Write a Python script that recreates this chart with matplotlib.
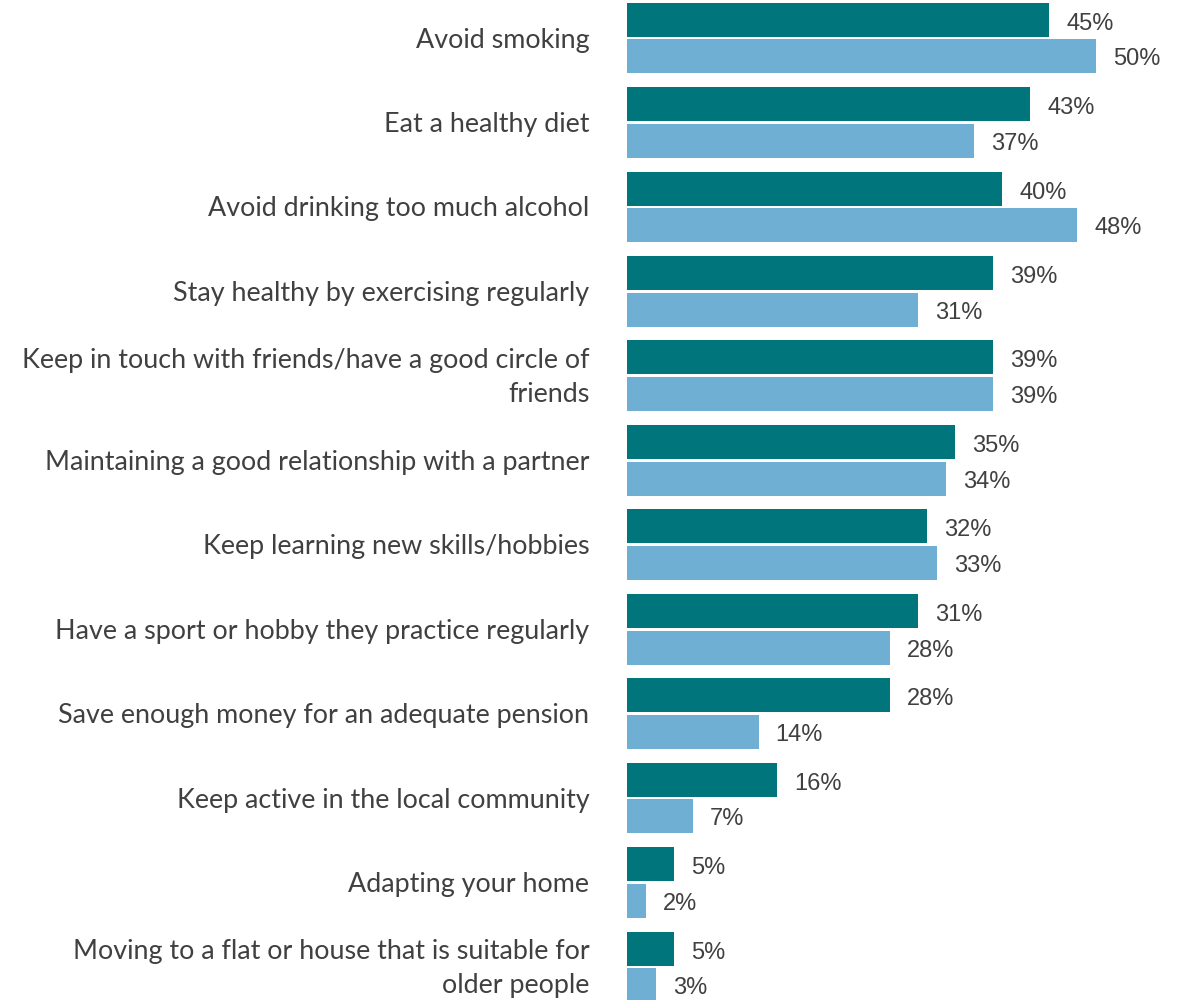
import matplotlib.pyplot as plt
import numpy as np

categories = [
    "Avoid smoking",
    "Eat a healthy diet",
    "Avoid drinking too much alcohol",
    "Stay healthy by exercising regularly",
    "Keep in touch with friends/have a good circle of\nfriends",
    "Maintaining a good relationship with a partner",
    "Keep learning new skills/hobbies",
    "Have a sport or hobby they practice regularly",
    "Save enough money for an adequate pension",
    "Keep active in the local community",
    "Adapting your home",
    "Moving to a flat or house that is suitable for\nolder people",
]
series_a = [45, 43, 40, 39, 39, 35, 32, 31, 28, 16, 5, 5]
series_b = [50, 37, 48, 31, 39, 34, 33, 28, 14, 7, 2, 3]

color_a = "#00767C"
color_b = "#6EAFD3"
text_color = "#404040"

W, H = 1178, 1000
fig = plt.figure(figsize=(W / 100, H / 100), dpi=100)
x0 = 627.5
ax = fig.add_axes([x0 / W, 0, 1 - x0 / W, 1])

bar_h = 0.4026
gap = 0.032
off = bar_h / 2 + gap / 2
y = np.arange(len(categories))

ax.barh(y - off, series_a, height=bar_h, color=color_a, linewidth=0)
ax.barh(y + off, series_b, height=bar_h, color=color_b, linewidth=0)

px_per_unit = 9.37
ax.set_xlim(0, (W - x0) / px_per_unit)
ax.set_ylim(11.391, -0.45)
ax.axis("off")

for yi, v in zip(y - off, series_a):
    ax.annotate(f"{v}%", (v, yi), xytext=(17, -4), textcoords="offset pixels",
                ha="left", va="center", fontsize=17, color=text_color,
                family="Liberation Sans")
for yi, v in zip(y + off, series_b):
    ax.annotate(f"{v}%", (v, yi), xytext=(17, -3), textcoords="offset pixels",
                ha="left", va="center", fontsize=17, color=text_color,
                family="Liberation Sans")

for yi, label in zip(y, categories):
    ax.annotate(label, (0, yi), xytext=(-38, -2), textcoords="offset pixels",
                ha="right", va="center", multialignment="right",
                fontsize=19.4, color=text_color, family="Lato",
                linespacing=1.45, annotation_clip=False)

fig.savefig("out.png", dpi=100)
